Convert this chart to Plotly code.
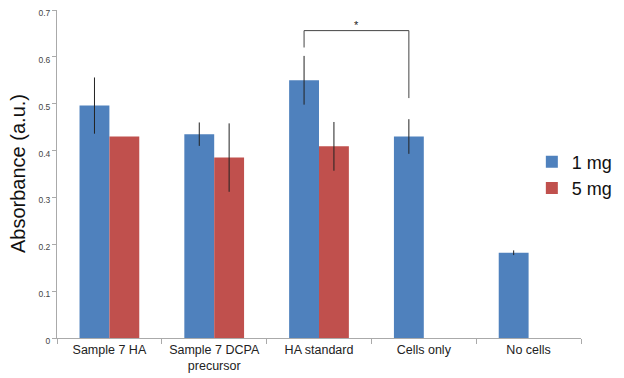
import plotly.graph_objects as go

categories = ["Sample 7 HA", "Sample 7 DCPA<br>precursor", "HA standard", "Cells only", "No cells"]
mg1_values = [0.496, 0.435, 0.550, 0.430, 0.182]
mg1_errors = [0.060, 0.025, 0.052, 0.037, 0.005]
mg5_values = [0.430, 0.385, 0.409, None, None]
mg5_errors = [0.0, 0.073, 0.052, 0, 0]
y_ticks = [0, 0.1, 0.2, 0.3, 0.4, 0.5, 0.6, 0.7]
y_tick_labels = ["0", "0.1", "0.2", "0.3", "0.4", "0.5", "0.6", "0.7"]

BLUE = "#4F81BD"
RED = "#C0504D"
FONT = "Liberation Sans, Arial, sans-serif"
bargap = 0.43

fig = go.Figure()
fig.add_trace(go.Bar(
    name="1 mg", x=categories, y=mg1_values, marker_color=BLUE,
    marker_line_width=0,
    error_y=dict(type="data", array=mg1_errors, visible=True, color="#222222", thickness=1, width=0),
))
fig.add_trace(go.Bar(
    name="5 mg", x=categories, y=mg5_values, marker_color=RED,
    marker_line_width=0,
    error_y=dict(type="data", array=mg5_errors, visible=True, color="#222222", thickness=1, width=0),
))

# significance bracket between HA standard (1 mg) and Cells only (1 mg)
off = (1 - bargap) / 4
xa = 2 - off
xb = 3 - off
y_top = 0.656
fig.add_shape(type="line", xref="x", yref="y", x0=xa, x1=xa, y0=0.620, y1=y_top,
              line=dict(color="#444444", width=1))
fig.add_shape(type="line", xref="x", yref="y", x0=xa, x1=xb, y0=y_top, y1=y_top,
              line=dict(color="#444444", width=1))
fig.add_shape(type="line", xref="x", yref="y", x0=xb, x1=xb, y0=0.512, y1=y_top,
              line=dict(color="#444444", width=1))
fig.add_annotation(x=(xa + xb) / 2, y=y_top, xref="x", yref="y", text="*",
                   showarrow=False, yanchor="bottom", yshift=-2,
                   font=dict(family=FONT, size=11, color="#222222"))

# y-axis title
fig.add_annotation(x=0, xref="paper", xshift=-39, y=0.5, yref="paper", text="Absorbance (a.u.)",
                   showarrow=False, textangle=-90, xanchor="center", yanchor="middle",
                   font=dict(family=FONT, size=20, color="#111111"))

# The page body adds an 8px margin, so the figure is 616x370 placed at (8, 8)
fig.update_layout(
    width=616, height=370,
    margin=dict(l=49, r=43, t=2, b=40, autoexpand=False),
    paper_bgcolor="white", plot_bgcolor="white",
    barmode="group", bargap=bargap, bargroupgap=0,
    font=dict(family=FONT, color="#222222"),
    showlegend=True,
    legend=dict(xref="container", x=0.99, y=0.497, xanchor="right", yanchor="middle",
                font=dict(family=FONT, size=18, color="#111111"),
                itemwidth=30, tracegroupgap=0, bgcolor="rgba(0,0,0,0)"),
    xaxis=dict(
        showline=True, linecolor="#AAAAAA", linewidth=1,
        ticks="outside", tickson="boundaries", ticklen=5, tickcolor="#AAAAAA",
        tickfont=dict(family=FONT, size=12.5, color="#222222"),
        showgrid=False, automargin=False,
    ),
    yaxis=dict(
        range=[0, 0.7], tickvals=y_ticks, ticktext=y_tick_labels,
        showline=True, linecolor="#AAAAAA", linewidth=1,
        ticks="outside", ticklen=4, tickcolor="#AAAAAA",
        tickfont=dict(family=FONT, size=8.5, color="#444444"),
        showgrid=False, zeroline=False, automargin=False,
        ticklabeloverflow="allow", ticklabelshift=3,
    ),
)

fig.write_html("out.html")
